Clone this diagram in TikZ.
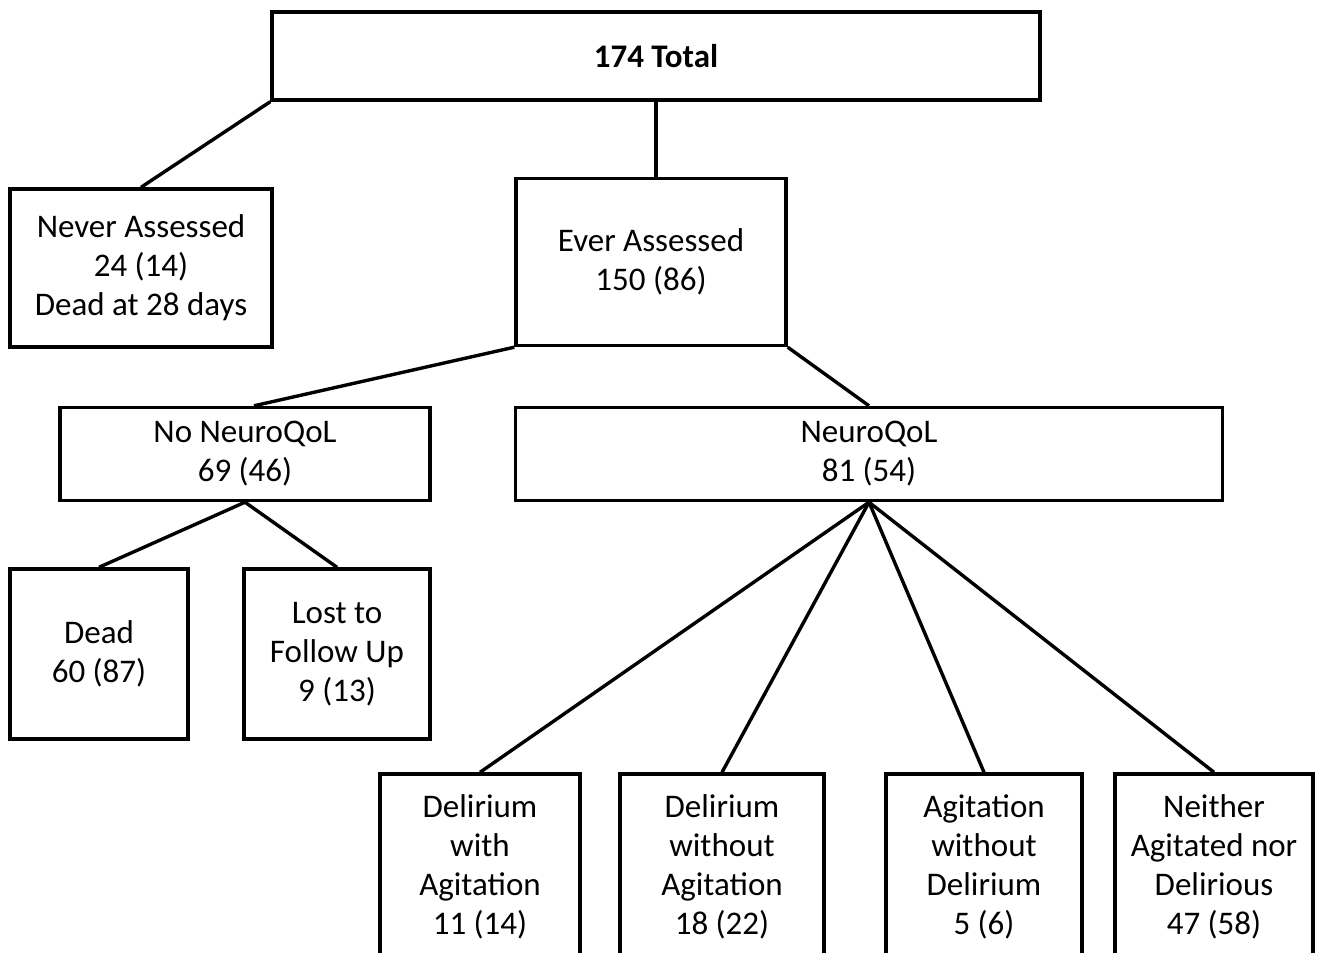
\documentclass[tikz,border=0pt]{standalone}
\usepackage{fontspec}
\setmainfont{Carlito}
\usepackage{tikz}
\usetikzlibrary{calc}

\begin{document}
\begin{tikzpicture}[
    x=0.5pt, y=-0.5pt,
    box/.style={draw,line width=1.7pt,inner sep=0pt,align=center,
                font=\fontsize{16.5}{19.5}\selectfont},
    link/.style={line width=1.7pt}
  ]
    \clip (0,0) rectangle (1321,952);

    \node[box,minimum width=384pt,minimum height=44pt,font=\fontsize{16.5}{19.5}\selectfont\bfseries]
      (total) at (656,56) {174 Total};

    \node[box,minimum width=131pt,minimum height=79pt] (never) at (141,268)
      {Never Assessed\\24 (14)\\Dead at 28 days};
    \node[box,minimum width=135pt,minimum height=83.5pt] (ever) at (651,262)
      {Ever Assessed\\150 (86)};

    \node[box,minimum width=185pt,minimum height=46.5pt] (noqol) at (245,454)
      {No NeuroQoL\\69 (46)};
    \node[box,minimum width=353.5pt,minimum height=46.5pt] (qol) at (869,454)
      {NeuroQoL\\81 (54)};

    \node[box,minimum width=89pt,minimum height=85pt] (dead) at (99,654)
      {Dead\\60 (87)};
    \node[box,minimum width=93pt,minimum height=85pt] (lost) at (337,654)
      {Lost to\\Follow Up\\9 (13)};

    \node[box,minimum width=100pt,minimum height=93pt] (delag) at (480,867)
      {Delirium\\with\\Agitation\\11 (14)};
    \node[box,minimum width=102pt,minimum height=93pt] (delnoag) at (722,867)
      {Delirium\\without\\Agitation\\18 (22)};
    \node[box,minimum width=98pt,minimum height=93pt] (agnodel) at (984,867)
      {Agitation\\without\\Delirium\\5 (6)};
    \node[box,minimum width=99pt,minimum height=93pt] (neither) at (1214,867)
      {Neither\\Agitated nor\\Delirious\\47 (58)};

    \draw[link] (total.south west) -- (never.north);
    \draw[link] (total.south) -- (total.south |- ever.north);
    \draw[link] (ever.south west) -- ($(noqol.north)+(9,0)$);
    \draw[link] (ever.south east) -- (qol.north);
    \draw[link] (noqol.south) -- (dead.north);
    \draw[link] (noqol.south) -- (lost.north);
    \foreach \leaf in {delag,delnoag,agnodel,neither}
      \draw[link] (qol.south) -- (\leaf.north);
  \end{tikzpicture}
\end{document}
